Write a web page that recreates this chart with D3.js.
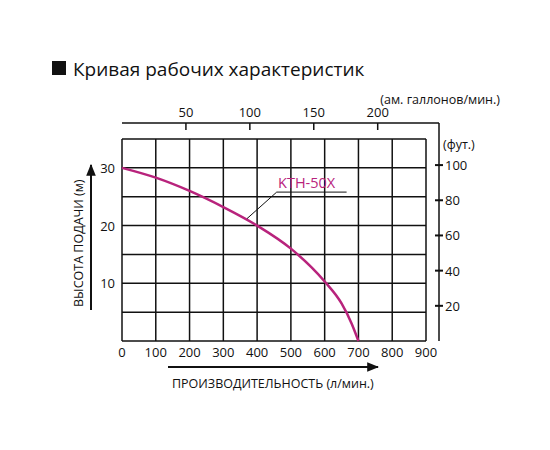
<!DOCTYPE html>
<html><head><meta charset="utf-8">
<script src="https://cdn.jsdelivr.net/npm/d3@7"></script>
<style>body{margin:0;background:#fff}text{font-family:"Open Sans",sans-serif}</style>
</head><body>
<svg id="c" width="550" height="450"></svg>
<script>
const flowTicks = [0,100,200,300,400,500,600,700,800,900];
const headTicks = [10,20,30];
const galTicks = [50,100,150,200];
const ftTicks = [20,40,60,80,100];
const curveFlow = [0,100,200,300,400,500,600,650,680,700];
const curveHead = [30,28.3,26,23.2,20,16,10.3,6.5,3,0];
const seriesName = "KTH-50X";

const svg = d3.select("#c");
const x = d3.scaleLinear().domain([0,900]).range([122,426]);
const y = d3.scaleLinear().domain([0,35]).range([341,139]);
const ink = "#111";
const mag = "#b8237c";

svg.append("rect").attr("x",52).attr("y",61).attr("width",14).attr("height",14).attr("fill",ink);
svg.append("text").attr("x",73).attr("y",76).attr("font-size",19).attr("fill",ink).text("Кривая рабочих характеристик");

const g = svg.append("g");
flowTicks.forEach(v=>g.append("line").attr("x1",x(v)).attr("x2",x(v)).attr("y1",y(0)).attr("y2",y(35)).attr("stroke",ink).attr("stroke-width",1.5));
d3.range(0,36,5).forEach(v=>g.append("line").attr("x1",x(0)).attr("x2",x(900)).attr("y1",y(v)).attr("y2",y(v)).attr("stroke",ink).attr("stroke-width",1.5));

flowTicks.forEach(v=>g.append("text").attr("x",x(v)).attr("y",357).attr("text-anchor","middle").attr("font-size",13).attr("fill",ink).text(v));
headTicks.forEach(v=>g.append("text").attr("x",115).attr("y",y(v)+5).attr("text-anchor","end").attr("font-size",13).attr("fill",ink).text(v));

const topY = 123;
g.append("line").attr("x1",x(0)).attr("x2",439).attr("y1",topY).attr("y2",topY).attr("stroke",ink).attr("stroke-width",1.5);
galTicks.forEach(v=>{
  const px = x(v*3.785);
  g.append("line").attr("x1",px).attr("x2",px).attr("y1",topY).attr("y2",topY+7).attr("stroke",ink).attr("stroke-width",1.5);
  g.append("text").attr("x",px).attr("y",topY-6).attr("text-anchor","middle").attr("font-size",13).attr("fill",ink).text(v);
});
g.append("text").attr("x",500).attr("y",104).attr("text-anchor","end").attr("font-size",12.5).attr("fill",ink).text("(ам. галлонов/мин.)");

const rx = 439;
g.append("line").attr("x1",rx).attr("x2",rx).attr("y1",topY).attr("y2",y(0)).attr("stroke",ink).attr("stroke-width",1.5);
ftTicks.forEach(v=>{
  const py = y(v*0.3048);
  g.append("line").attr("x1",rx-4).attr("x2",rx+4).attr("y1",py).attr("y2",py).attr("stroke",ink).attr("stroke-width",2);
  g.append("text").attr("x",rx+6).attr("y",py+5).attr("font-size",13).attr("fill",ink).text(v);
});
g.append("text").attr("x",443).attr("y",149).attr("font-size",12.5).attr("fill",ink).text("(фут.)");

const line = d3.line().x(d=>x(d[0])).y(d=>y(d[1])).curve(d3.curveMonotoneX);
g.append("path").datum(curveFlow.map((f,i)=>[f,curveHead[i]])).attr("d",line).attr("fill","none").attr("stroke",mag).attr("stroke-width",2.5);

g.append("path").attr("d",`M${x(370)},${y(21.2)} L${x(458)},${y(25.8)} L${x(665)},${y(25.8)}`).attr("fill","none").attr("stroke",ink).attr("stroke-width",1);
g.append("text").attr("x",x(462)).attr("y",y(26.5)).attr("font-size",14.5).attr("fill",mag).text(seriesName);

svg.append("defs").append("marker").attr("id","ar").attr("viewBox","0 0 10 10").attr("refX",9).attr("refY",5).attr("markerWidth",6).attr("markerHeight",6).attr("orient","auto")
  .append("path").attr("d","M0,1 L10,5 L0,9 Z").attr("fill",ink);
svg.append("line").attr("x1",168).attr("x2",378).attr("y1",367).attr("y2",367).attr("stroke",ink).attr("stroke-width",2).attr("marker-end","url(#ar)");
svg.append("text").attr("x",172).attr("y",388).attr("font-size",12.5).attr("fill",ink).text("ПРОИЗВОДИТЕЛЬНОСТЬ (л/мин.)");
svg.append("line").attr("x1",91).attr("x2",91).attr("y1",310).attr("y2",165).attr("stroke",ink).attr("stroke-width",2).attr("marker-end","url(#ar)");
svg.append("text").attr("transform","translate(83,307) rotate(-90)").attr("font-size",12.5).attr("fill",ink).text("ВЫСОТА ПОДАЧИ (м)");
</script>
</body></html>
